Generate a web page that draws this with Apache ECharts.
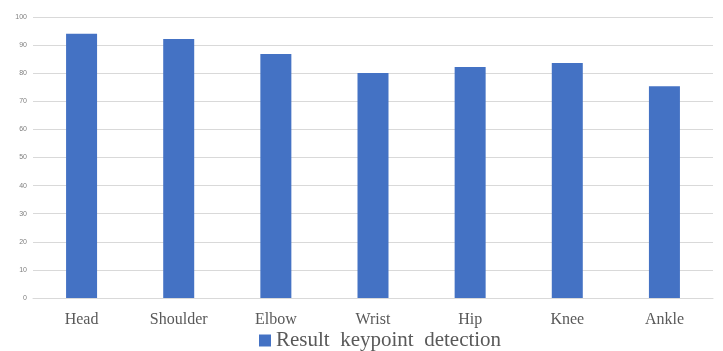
<!DOCTYPE html>
<html><head><meta charset="utf-8">
<script src="https://cdn.jsdelivr.net/npm/echarts@6/dist/echarts.min.js"></script>
<style>html,body{margin:0;padding:0;background:#fff}#c{width:723px;height:351px}</style>
</head><body><div id="c"></div>
<script>
const categories = ["Head","Shoulder","Elbow","Wrist","Hip","Knee","Ankle"];
const values = [94.0, 92.2, 86.8, 80.1, 82.2, 83.6, 75.4];
const seriesName = "Result  keypoint  detection";
const chart = echarts.init(document.getElementById('c'));
chart.setOption({
  animation:false,
  grid:{left:33,right:10,top:17,bottom:53,containLabel:false},
  legend:{bottom:-5,left:254,itemWidth:12,itemHeight:12,itemGap:4,icon:'rect',
    textStyle:{fontFamily:'Liberation Serif',fontSize:21,color:'#595959'},data:[seriesName]},
  xAxis:{type:'category',data:categories,axisTick:{show:false},
    axisLine:{lineStyle:{color:'#d9d9d9',width:1}},
    axisLabel:{fontFamily:'Liberation Serif',fontSize:16,color:'#595959',margin:14}},
  yAxis:{type:'value',min:0,max:100,interval:10,
    axisLine:{show:false},axisTick:{show:false},
    axisLabel:{fontSize:7,color:'#7f7f7f',margin:6},
    splitLine:{lineStyle:{color:'#d9d9d9',width:1}}},
  series:[{name:seriesName,type:'bar',data:values,barWidth:31,itemStyle:{color:'#4472c4'}}]
});
</script></body></html>
